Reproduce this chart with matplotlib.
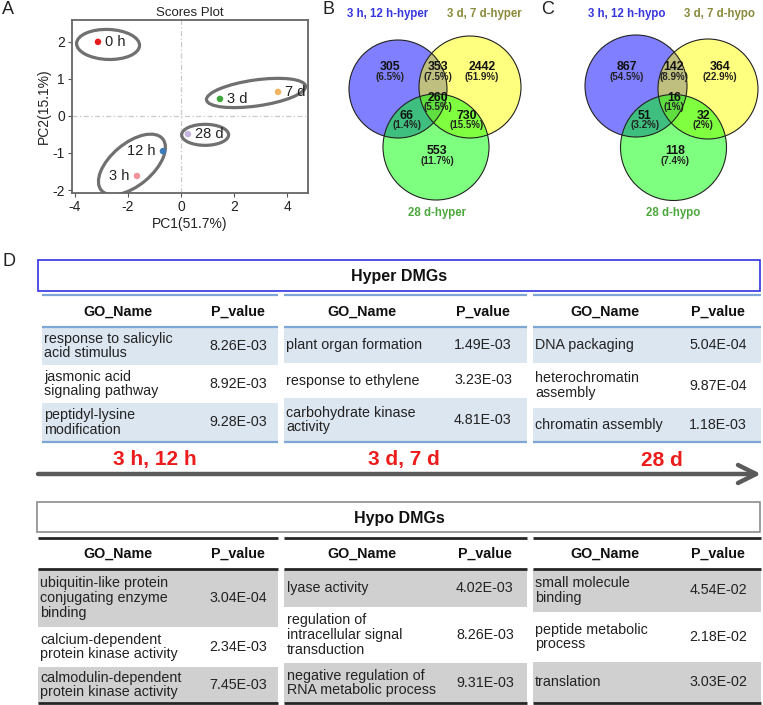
import numpy as np
import matplotlib
matplotlib.use("Agg")
import matplotlib.pyplot as plt
from matplotlib.patches import Ellipse, Circle, Rectangle
from matplotlib.transforms import ScaledTranslation

plt.rcParams['font.family'] = ['Liberation Sans', 'DejaVu Sans']
plt.rcParams['axes.unicode_minus'] = False

# ---------------- data ----------------
pca_labels = ['0 h', '3 h', '12 h', '3 d', '7 d', '28 d']
pc1 = [-3.13, -1.66, -0.68, 1.47, 3.66, 0.26]
pc2 = [2.00, -1.62, -0.95, 0.46, 0.65, -0.49]
pca_colors = ['#e41a1c', '#f2939b', '#3b7bb8', '#3ca63c', '#f0b462', '#c4b4de']
pca_label_side = ['right', 'left', 'left', 'right', 'right', 'right']

# region order: only A, A&B, only B, A&C, A&B&C, B&C, only C
hyper_sets = ['3 h, 12 h-hyper', '3 d, 7 d-hyper', '28 d-hyper']
hyper_counts = [305, 353, 2442, 66, 260, 730, 553]
hyper_pct = ['6.5%', '7.5%', '51.9%', '1.4%', '5.5%', '15.5%', '11.7%']
hypo_sets = ['3 h, 12 h-hypo', '3 d, 7 d-hypo', '28 d-hypo']
hypo_counts = [867, 142, 364, 51, 16, 32, 118]
hypo_pct = ['54.5%', '8.9%', '22.9%', '3.2%', '1%', '2%', '7.4%']

periods = ['3 h, 12 h', '3 d, 7 d', '28 d']
hyper_go = [
    ['response to salicylic\nacid stimulus', 'jasmonic acid\nsignaling pathway', 'peptidyl-lysine\nmodification'],
    ['plant organ formation', 'response to ethylene', 'carbohydrate kinase\nactivity'],
    ['DNA packaging', 'heterochromatin\nassembly', 'chromatin assembly'],
]
hyper_p = [
    ['8.26E-03', '8.92E-03', '9.28E-03'],
    ['1.49E-03', '3.23E-03', '4.81E-03'],
    ['5.04E-04', '9.87E-04', '1.18E-03'],
]
hypo_go = [
    ['ubiquitin-like protein\nconjugating enzyme\nbinding', 'calcium-dependent\nprotein kinase activity',
     'calmodulin-dependent\nprotein kinase activity'],
    ['lyase activity', 'regulation of\nintracellular signal\ntransduction',
     'negative regulation of\nRNA metabolic process'],
    ['small molecule\nbinding', 'peptide metabolic\nprocess', 'translation'],
]
hypo_p = [
    ['3.04E-04', '2.34E-03', '7.45E-03'],
    ['4.02E-03', '8.26E-03', '9.31E-03'],
    ['4.54E-02', '2.18E-02', '3.03E-02'],
]

# ---------------- figure ----------------
W, H = 763, 705
fig = plt.figure(figsize=(W / 100, H / 100), dpi=100)
bg = fig.add_axes([0, 0, 1, 1])
bg.set_xlim(0, W)
bg.set_ylim(H, 0)
bg.axis('off')

# panel letters
for lab, (x, y) in zip('ABCD', [(8, 9), (328, 9), (548, 9), (9, 262)]):
    bg.text(x, y, lab, ha='center', va='center', fontsize=13, color='#222222')

# ---------------- A: PCA ----------------
ax = fig.add_axes([72 / W, 1 - 193 / H, 236 / W, 173 / H])
ax.set_xlim(-4.11, 4.79)
ax.set_ylim(-2.08, 2.59)
ax.axvline(0, color='#c8c8c8', lw=0.9, ls=(0, (4, 2, 1, 2)), zorder=0)
ax.axhline(0, color='#c8c8c8', lw=0.9, ls=(0, (4, 2, 1, 2)), zorder=0)
ax.scatter(pc1, pc2, s=22, c=pca_colors, zorder=3, edgecolors='none')
for lab, x, y, side in zip(pca_labels, pc1, pc2, pca_label_side):
    off = 0.28 if side == 'right' else -0.28
    ax.text(x + off, y, lab, ha='left' if side == 'right' else 'right', va='center',
            fontsize=10.5, color='#222222')
# ellipses: (center data x, y, width px, height px, angle deg)
ell_specs = [(-2.75, 1.93, 63, 30, -2), (2.83, 0.62, 100, 26, 8),
             (0.91, -0.51, 47, 21, 0), (-1.85, -1.31, 80, 42, 40)]
for cx, cy, w, h, a in ell_specs:
    tr = fig.dpi_scale_trans + ScaledTranslation(cx, cy, ax.transData)
    e = Ellipse((0, 0), w / 100, h / 100, angle=a, transform=tr, fill=False,
                edgecolor='#707070', lw=2.3, zorder=2)
    ax.add_patch(e)
ax.set_xticks([-4, -2, 0, 2, 4])
ax.set_yticks([-2, -1, 0, 1, 2])
ax.tick_params(labelsize=10, length=3, color='#555555', labelcolor='#222222', pad=2)
for s in ax.spines.values():
    s.set_color('#666666')
    s.set_linewidth(1.3)
ax.set_title('Scores Plot', fontsize=9.5, color='#222222', pad=3)
ax.set_xlabel('PC1(51.7%)', fontsize=10, color='#222222', labelpad=2)
ax.set_ylabel('PC2(15.1%)', fontsize=10, color='#222222', labelpad=1)

# ---------------- B, C: Venn ----------------
def venn(circles, sets, counts, pcts, pos, set_pos):
    fills = ['#0000ff', '#ffff00', '#00ff00']
    for (cx, cy, r), fc in zip(circles, fills):
        bg.add_patch(Circle((cx, cy), r, facecolor=fc, alpha=0.5, edgecolor='none', zorder=2))
    for (cx, cy, r) in circles:
        bg.add_patch(Circle((cx, cy), r, fill=False, edgecolor='#222222', lw=0.8, zorder=3))
    for c, p, (x, y) in zip(counts, pcts, pos):
        bg.text(x, y, str(c), ha='center', va='center', fontsize=8.8, fontweight='bold',
                color='#111111', zorder=4)
        bg.text(x, y + 9.5, '(' + p + ')', ha='center', va='center', fontsize=7,
                fontweight='bold', color='#222222', zorder=4)
    scol = ['#3636dd', '#8a8a3a', '#4ca83c']
    for s, col, (x, y) in zip(sets, scol, set_pos):
        bg.text(x, y, s, ha='center', va='center', fontsize=8.3, fontweight='bold', color=col)

venn([(398, 89, 49), (470, 87, 51), (436, 147, 53)], hyper_sets, hyper_counts, hyper_pct,
     [(390, 67), (438, 67), (482, 67), (407, 116), (438, 98), (467, 116), (437, 151)],
     [(388, 14), (484, 14), (437, 213)])
venn([(636, 86, 51), (708, 89, 50), (673.5, 147.5, 53)], hypo_sets, hypo_counts, hypo_pct,
     [(627, 67), (674, 67), (720, 67), (645, 116), (674, 98), (703, 116), (675, 151)],
     [(627, 14), (720, 14), (673, 213)])

# ---------------- D: tables ----------------
FS = 10.3

def draw_table(x0, x1, top_y, header_y, bounds, names, pvals, name_x, hdr_x, p_x,
               shade, rule_col, rule_lw):
    bg.plot([x0, x1], [top_y, top_y], color=rule_col, lw=rule_lw, solid_capstyle='butt')
    bg.text(hdr_x, header_y, 'GO_Name', ha='center', va='center', fontsize=FS,
            fontweight='bold', color='#111111')
    bg.text(p_x, header_y, 'P_value', ha='center', va='center', fontsize=FS,
            fontweight='bold', color='#111111')
    for i, (n, p) in enumerate(zip(names, pvals)):
        y0, y1 = bounds[i], bounds[i + 1]
        if i % 2 == 0:
            bg.add_patch(Rectangle((x0, y0), x1 - x0, y1 - y0, facecolor=shade,
                                   edgecolor='none', zorder=0))
        ym = (y0 + y1) / 2
        bg.text(name_x, ym, n, ha='left', va='center', fontsize=FS, linespacing=1.08,
                color='#222222')
        bg.text(p_x, ym, p, ha='center', va='center', fontsize=FS, color='#222222')
    bg.plot([x0, x1], [bounds[0]] * 2, color=rule_col, lw=rule_lw, solid_capstyle='butt')
    bg.plot([x0, x1], [bounds[-1]] * 2, color=rule_col, lw=rule_lw, solid_capstyle='butt')

# Hyper header box
bg.add_patch(Rectangle((38, 260), 722, 31, fill=False, edgecolor='#3333e0', lw=1.2))
bg.text(399, 276, 'Hyper DMGs', ha='center', va='center', fontsize=11.5, fontweight='bold',
        color='#111111')

hyper_cols = [(42, 278, [327, 365, 403, 442], 44, 118, 238),
              (284, 527, [327, 363, 398, 442], 286, 362, 483),
              (533, 761, [327, 363, 408, 442], 535, 605, 718)]
for k, (x0, x1, bnd, nx, hx, px) in enumerate(hyper_cols):
    draw_table(x0, x1, 295, 312, bnd, hyper_go[k], hyper_p[k], nx, hx, px,
               '#dce6f1', '#7ea6d6', 1.6)

# timeline arrow
bg.annotate('', xy=(761, 474), xytext=(38, 474),
            arrowprops=dict(arrowstyle='->,head_length=1.3,head_width=0.65', lw=3.2,
                            color='#5a5a5a', shrinkA=0, shrinkB=0, mutation_scale=10))
for lab, x in zip(periods, [155, 404, 662]):
    bg.text(x, 460, lab, ha='center', va='center', fontsize=15, fontweight='bold',
            color='#ec1c1c')

# Hypo header box
bg.add_patch(Rectangle((37, 502), 723, 30, fill=False, edgecolor='#8c8c8c', lw=1.2))
bg.text(399, 518, 'Hypo DMGs', ha='center', va='center', fontsize=11.5, fontweight='bold',
        color='#111111')

hypo_cols = [(38, 278, [569, 627, 667, 703], 40, 118, 238),
             (284, 527, [569, 607, 663, 703], 287, 362, 485),
             (533, 761, [569, 612, 662, 703], 535, 605, 718)]
for k, (x0, x1, bnd, nx, hx, px) in enumerate(hypo_cols):
    draw_table(x0, x1, 538, 554, bnd, hypo_go[k], hypo_p[k], nx, hx, px,
               '#d0d0d0', '#262626', 2.0)

fig.savefig('out.png', dpi=100)
